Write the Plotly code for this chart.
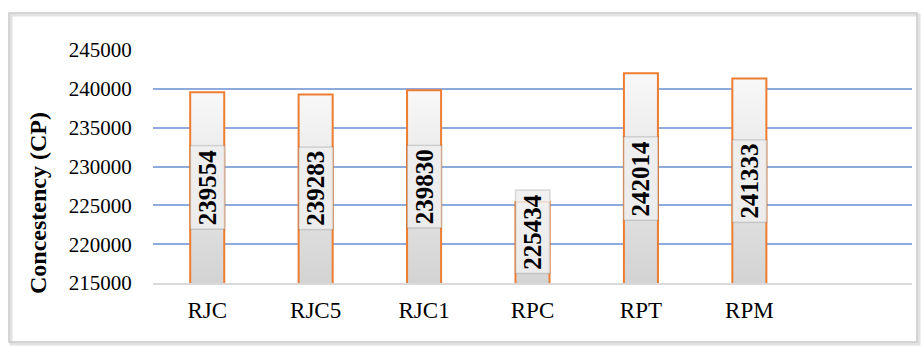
import plotly.graph_objects as go

# Consistency measurements (CP) per sample
categories = ["RJC", "RJC5", "RJC1", "RPC", "RPT", "RPM"]
values = [239554, 239283, 239830, 225434, 242014, 241333]
y_ticks = [215000, 220000, 225000, 230000, 235000, 240000, 245000]

Y_MIN, Y_MAX = 215000, 245000
N_SLOTS = 7          # category slots on the axis (last one left empty)
HALF_W = 0.157       # half bar width in category units

W, H = 922, 347
ML, MR, MT, MB = 153, 10, 50, 64
PW, PH = W - ML - MR, H - MT - MB


def px_x(p):
    return (p - ML) / PW


def px_y(p):
    return (H - MB - p) / PH


SERIF = "Liberation Serif, Times New Roman, serif"
ORANGE = "#ed7d31"

fig = go.Figure()

# bars as filled shapes so each can carry a vertical grey gradient
for i, v in enumerate(values):
    fig.add_trace(go.Scatter(
        x=[i - HALF_W, i - HALF_W, i + HALF_W, i + HALF_W],
        y=[Y_MIN, v, v, Y_MIN],
        mode="lines",
        fill="toself",
        fillgradient=dict(type="vertical",
                          colorscale=[[0, "#d3d3d3"], [1, "#f8f8f8"]]),
        line=dict(color=ORANGE, width=2),
        hoverinfo="skip",
        showlegend=False,
    ))

# value labels, centred on the bar, rotated; a faint halo acts as shadow
annotations = []
min_center = Y_MIN + 6600
for i, v in enumerate(values):
    yc = max((Y_MIN + v) / 2, min_center)
    annotations.append(dict(
        x=i, y=yc, xref="x", yref="y",
        xanchor="center", yanchor="middle",
        text=f"{v}", textangle=-90, showarrow=False,
        font=dict(family=SERIF, size=25, color="black", weight="bold"),
        bgcolor="rgba(238,238,238,0.85)",
        bordercolor="rgba(0,0,0,0.13)", borderwidth=1.5, borderpad=3,
    ))

# y-axis title
annotations.append(dict(
    x=px_x(38), y=px_y(203), xref="paper", yref="paper",
    xanchor="center", yanchor="middle",
    text="Concestency (CP)", textangle=-90, showarrow=False,
    font=dict(family=SERIF, size=24, color="black", weight="bold"),
))

# outer frame with a soft shadow
shapes = [
    dict(type="rect", xref="paper", yref="paper",
         x0=px_x(11), x1=px_x(919), y0=px_y(344), y1=px_y(15),
         line=dict(color="#e2e2e2", width=3), layer="below"),
    dict(type="rect", xref="paper", yref="paper",
         x0=px_x(9), x1=px_x(917), y0=px_y(342), y1=px_y(13),
         line=dict(color="#c9c9c9", width=1.5), layer="below"),
]

fig.update_layout(
    width=W, height=H,
    margin=dict(l=ML, r=MR, t=MT, b=MB),
    paper_bgcolor="white", plot_bgcolor="white",
    annotations=annotations, shapes=shapes,
    xaxis=dict(
        range=[-0.5, N_SLOTS - 0.5],
        tickvals=list(range(len(categories))), ticktext=categories,
        ticks="outside", ticklen=6, tickcolor="rgba(0,0,0,0)",
        tickfont=dict(family=SERIF, size=23, color="black"),
        showgrid=False, zeroline=False,
        showline=True, linecolor="#d9d9d9", linewidth=1.5,
    ),
    yaxis=dict(
        range=[Y_MIN, Y_MAX], tickvals=y_ticks,
        tickformat="d",
        ticks="outside", ticklen=16, tickcolor="rgba(0,0,0,0)",
        tickfont=dict(family=SERIF, size=21, color="black"),
        showgrid=True, gridcolor="#8faadc", gridwidth=1.5,
        zeroline=False, showline=False,
    ),
)

fig.write_html("out.html")
